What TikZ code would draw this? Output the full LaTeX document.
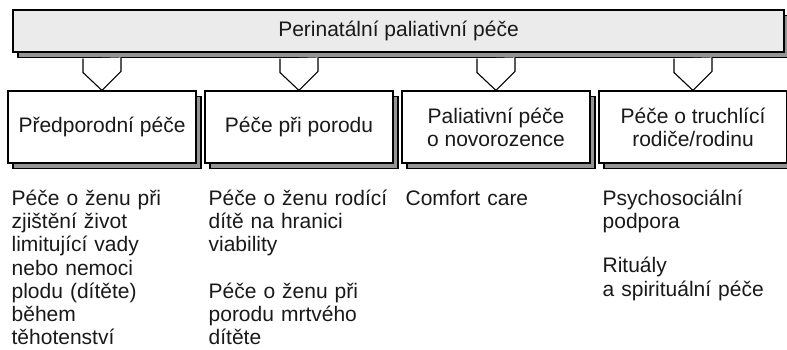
\documentclass[tikz,border=0pt]{standalone}
\usepackage{fontspec}
\setmainfont{Liberation Sans}
\usetikzlibrary{positioning,shadows,calc}

\begin{document}
\begin{tikzpicture}[x=1pt,y=1pt,node distance=197pt,on grid,
    every node/.style={font=\fontsize{21pt}{23.2pt}\selectfont,text=black!90},
    shad/.style={copy shadow={shadow xshift=5pt,shadow yshift=-5.5pt,fill=black!42,draw=black,line width=1.1pt}},
    topbox/.style={shad,draw,line width=1.1pt,fill=black!8,minimum width=771pt,minimum height=42pt,inner sep=0pt},
    carebox/.style={shad,draw,line width=1.1pt,fill=white,minimum width=188pt,minimum height=72pt,inner sep=0pt,align=center},
    list/.style={anchor=base west,align=left,text width=185pt,inner sep=0pt},
    chevron/.style={draw,line width=1.1pt,fill=white,line join=miter}]
    \useasboundingbox (0,0) rectangle (787,-350);
    	\node[topbox] (pp) at (398.5,-31) {Perinatální paliativní péče};
    	\node[carebox] (pre) at (102,-127) {Předporodní péče};
    \node[carebox] (por) [right=of pre] {Péče při porodu};
    \node[carebox] (nov) [right=of por] {Paliativní péče\\o novorozence};
    \node[carebox] (rod) [right=of nov] {Péče o truchlící\\rodiče/rodinu};
    \foreach \b in {pre,por,nov,rod}
        \draw[chevron] ($(\b.north|-pp.south)+(-19,-6)$) -- ++(0,-14) -- (\b.north)
              -- ++(19,19) -- ++(0,14);
    \node[list] (pre_l) at ($(pre.south west)+(4,-42)$) {Péče o ženu při\\zjištění život\\limitující vady\\nebo nemoci\\plodu (dítěte)\\během\\těhotenství};
    \node[list] (por_l) at ($(por.south west)+(4,-42)$) {Péče o ženu rodící\\dítě na hranici\\viability\\[23.2pt]Péče o ženu při\\porodu mrtvého\\dítěte};
    \node[list] (nov_l) at ($(nov.south west)+(4,-42)$) {Comfort care};
    \node[list] (rod_l) at ($(rod.south west)+(4,-42)$) {Psychosociální\\podpora\\[21pt]Rituály\\a spirituální péče};
	\end{tikzpicture}
\end{document}
